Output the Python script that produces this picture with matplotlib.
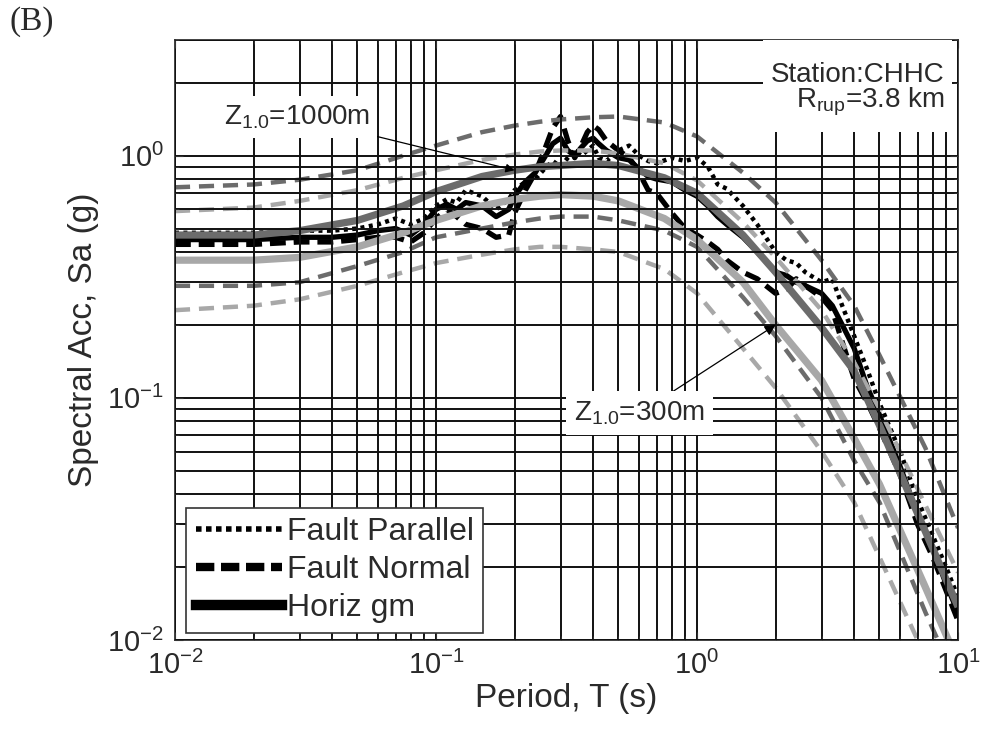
import matplotlib
matplotlib.use("Agg")
import matplotlib.pyplot as plt
from matplotlib.lines import Line2D
from matplotlib.patches import Rectangle
from matplotlib.ticker import LogLocator, LogFormatterMathtext, NullFormatter

plt.rcParams['font.family'] = ['Liberation Sans', 'DejaVu Sans']
plt.rcParams['mathtext.fontset'] = 'custom'
plt.rcParams['mathtext.rm'] = 'Liberation Sans'
plt.rcParams['mathtext.it'] = 'Liberation Sans:italic'
plt.rcParams['mathtext.bf'] = 'Liberation Sans:bold'

# --- model predictions (median and +/- one sigma), Sa in g ---
periods_model = [0.01, 0.02, 0.03, 0.05, 0.075, 0.1, 0.15, 0.2, 0.25, 0.3, 0.4,
                 0.5, 0.75, 1.0, 1.5, 2.0, 3.0, 4.0, 5.0, 7.5, 10.0]

z1000_median = [0.47, 0.47, 0.49, 0.54, 0.62, 0.71, 0.82, 0.87, 0.90, 0.91, 0.93,
                0.91, 0.81, 0.70, 0.47, 0.33, 0.195, 0.129, 0.077, 0.028, 0.0137]
z1000_plus = [0.74, 0.76, 0.795, 0.87, 1.0, 1.10, 1.25, 1.33, 1.38, 1.41, 1.44,
              1.45, 1.37, 1.20, 0.85, 0.64, 0.37, 0.24, 0.15, 0.062, 0.029]
z1000_minus = [0.29, 0.29, 0.30, 0.35, 0.40, 0.46, 0.50, 0.53, 0.55, 0.56, 0.56,
               0.54, 0.49, 0.42, 0.26, 0.18, 0.10, 0.055, 0.037, 0.013, 0.0065]

z300_median = [0.37, 0.37, 0.38, 0.42, 0.48, 0.54, 0.62, 0.66, 0.68, 0.69, 0.68,
               0.65, 0.55, 0.45, 0.30, 0.20, 0.118, 0.068, 0.044, 0.0165, 0.0081]
z300_plus = [0.59, 0.61, 0.65, 0.72, 0.81, 0.87, 0.96, 1.01, 1.04, 1.05, 1.05,
             1.02, 0.93, 0.79, 0.53, 0.38, 0.23, 0.14, 0.09, 0.036, 0.019]
z300_minus = [0.23, 0.24, 0.255, 0.29, 0.33, 0.36, 0.39, 0.41, 0.42, 0.42, 0.41,
              0.40, 0.34, 0.27, 0.16, 0.11, 0.06, 0.037, 0.022, 0.0085, 0.004]

# --- recorded spectra at station CHHC ---
periods_rec = [0.01, 0.015, 0.02, 0.03, 0.04, 0.05, 0.06, 0.07, 0.08, 0.09, 0.1,
               0.11, 0.12, 0.13, 0.15, 0.17, 0.19, 0.2, 0.22, 0.24, 0.26, 0.28,
               0.3, 0.32, 0.34, 0.36, 0.38, 0.4, 0.42, 0.45, 0.5, 0.55, 0.6, 0.65,
               0.7, 0.8, 0.9, 1.0, 1.1, 1.2, 1.3, 1.5, 1.7, 2.0, 2.2, 2.4, 2.6,
               3.0, 3.3, 3.6, 4.0, 4.5, 5.0, 6.0, 7.0, 8.0, 9.0, 10.0]

horiz_gm = [0.45, 0.45, 0.45, 0.46, 0.46, 0.47, 0.49, 0.50, 0.47, 0.52, 0.60,
            0.63, 0.60, 0.64, 0.62, 0.56, 0.60, 0.68, 0.78, 0.85, 0.98, 1.12,
            1.18, 1.05, 1.00, 1.08, 1.15, 1.18, 1.12, 1.05, 0.98, 0.96, 0.88, 0.82,
            0.80, 0.78, 0.72, 0.68, 0.62, 0.56, 0.52, 0.46, 0.40, 0.33, 0.32, 0.30,
            0.29, 0.27, 0.24, 0.20, 0.16, 0.11, 0.085, 0.052, 0.033, 0.024, 0.017, 0.013]

fault_normal = [0.43, 0.43, 0.43, 0.44, 0.44, 0.45, 0.46, 0.46, 0.44, 0.48, 0.55,
                0.60, 0.56, 0.52, 0.50, 0.46, 0.47, 0.58, 0.72, 0.85, 1.05, 1.30,
                1.45, 1.15, 0.98, 1.10, 1.25, 1.33, 1.28, 1.15, 1.05, 0.98, 0.85, 0.72,
                0.70, 0.58, 0.50, 0.47, 0.44, 0.41, 0.37, 0.33, 0.31, 0.27, 0.28, 0.31,
                0.29, 0.26, 0.23, 0.17, 0.12, 0.095, 0.075, 0.048, 0.030, 0.022, 0.016, 0.012]

fault_parallel = [0.48, 0.48, 0.48, 0.49, 0.49, 0.50, 0.52, 0.55, 0.52, 0.55, 0.62,
                  0.66, 0.64, 0.72, 0.68, 0.60, 0.66, 0.72, 0.78, 0.80, 0.88, 0.95,
                  0.90, 0.98, 1.05, 1.00, 1.05, 1.10, 0.98, 0.95, 1.05, 1.10, 1.00, 0.95,
                  0.93, 0.98, 0.95, 0.98, 0.90, 0.76, 0.73, 0.62, 0.52, 0.40, 0.37, 0.36,
                  0.33, 0.30, 0.31, 0.24, 0.18, 0.13, 0.095, 0.060, 0.038, 0.027, 0.020, 0.015]

dark_gray = '#6c6c6c'
light_gray = '#a8a8a8'
text_col = '#2a2a2a'

fig = plt.figure(figsize=(9.83, 7.42), dpi=100)
ax = fig.add_axes([0.178, 0.1375, 0.7966, 0.8085])

# recorded
ax.plot(periods_rec, fault_parallel, color='k', ls=(0, (0.9, 1.0)), lw=3.2)
ax.plot(periods_rec, fault_normal, color='k', ls=(0, (3.0, 1.5)), lw=3.8)
ax.plot(periods_rec, horiz_gm, color='k', ls='-', lw=3.8)

# model, Z1.0 = 1000 m (dark) and 300 m (light)
dash = (0, (3.4, 2.0))
ax.plot(periods_model, z1000_plus, color=dark_gray, ls=dash, lw=3.2, zorder=2.2)
ax.plot(periods_model, z1000_minus, color=dark_gray, ls=dash, lw=3.2, zorder=2.2)
ax.plot(periods_model, z300_plus, color=light_gray, ls=dash, lw=3.2, zorder=2.2)
ax.plot(periods_model, z300_minus, color=light_gray, ls=dash, lw=3.2, zorder=2.2)
ax.plot(periods_model, z1000_median, color=dark_gray, lw=5.2, zorder=2.3,
        solid_capstyle='butt')
ax.plot(periods_model, z300_median, color=light_gray, lw=5.2, zorder=2.3,
        solid_capstyle='butt')

ax.set_xscale('log')
ax.set_yscale('log')
ax.set_xlim(0.01, 10)
ax.set_ylim(0.01, 3)

ax.xaxis.set_major_locator(LogLocator(base=10))
ax.yaxis.set_major_locator(LogLocator(base=10))
ax.xaxis.set_minor_locator(LogLocator(base=10, subs=range(2, 10)))
ax.yaxis.set_minor_locator(LogLocator(base=10, subs=range(2, 10)))
ax.xaxis.set_major_formatter(LogFormatterMathtext())
ax.yaxis.set_major_formatter(LogFormatterMathtext())
ax.xaxis.set_minor_formatter(NullFormatter())
ax.yaxis.set_minor_formatter(NullFormatter())

ax.set_axisbelow(False)
ax.grid(True, which='both', color='#111111', lw=1.4, ls='-')
ax.tick_params(which='both', direction='in', top=True, right=True,
               colors='#333333', labelcolor=text_col, labelsize=21)
ax.tick_params(which='major', length=6, pad=8)
ax.tick_params(which='minor', length=3)
for sp in ax.spines.values():
    sp.set_color('#333333')
    sp.set_linewidth(1.3)

ax.set_xlabel('Period, T (s)', fontsize=24, color=text_col, labelpad=2)
ax.set_ylabel('Spectral Acc, Sa (g)', fontsize=24, color=text_col, labelpad=6)

# legend
handles = [Line2D([], [], color='k', ls=(0, (1, 0.8)), lw=4),
           Line2D([], [], color='k', ls=(0, (2.2, 0.8)), lw=6),
           Line2D([], [], color='k', lw=7.5)]
leg = ax.legend(handles, ['Fault Parallel', 'Fault Normal', 'Horiz gm'],
                loc='lower left', bbox_to_anchor=(0.014, 0.012),
                borderaxespad=0, fontsize=23, handlelength=2.7,
                handletextpad=0.15, labelspacing=0.25, borderpad=0.3,
                fancybox=False, framealpha=1, edgecolor='#333333',
                labelcolor=text_col)
leg.get_frame().set_linewidth(1.2)

# annotations
i2 = periods_model.index(0.2)
ax.annotate(r'Z$_{\mathregular{1.0}}$=1000m',
            xy=(periods_model[i2], z1000_median[i2]), xycoords='data',
            xytext=(0.156, 0.872), textcoords='axes fraction',
            ha='center', va='center', fontsize=20, color=text_col, zorder=5,
            bbox=dict(fc='white', ec='none', pad=5),
            arrowprops=dict(arrowstyle='-|>', color='k', lw=0.9,
                            mutation_scale=13, shrinkA=0, shrinkB=0))

j2 = periods_model.index(2.0)
ax.annotate(r'Z$_{\mathregular{1.0}}$=300m',
            xy=(periods_model[j2], z300_median[j2]), xycoords='data',
            xytext=(0.593, 0.378), textcoords='axes fraction',
            ha='center', va='center', fontsize=20, color=text_col, zorder=5,
            bbox=dict(fc='white', ec='none', pad=6),
            arrowprops=dict(arrowstyle='-|>', color='k', lw=0.9,
                            mutation_scale=16, shrinkA=0, shrinkB=0))

ax.add_patch(Rectangle((0.751, 0.847), 0.241, 0.153, transform=ax.transAxes,
                       facecolor='white', edgecolor='none', zorder=4))
ax.text(0.983, 0.93, 'Station:CHHC', transform=ax.transAxes, ha='right',
        va='baseline', fontsize=20, color=text_col, zorder=5)
ax.text(0.983, 0.888, r'R$_{\mathregular{rup}}$=3.8 km', transform=ax.transAxes,
        ha='right', va='baseline', fontsize=20, color=text_col, zorder=5)

fig.text(0.01, 0.992, '(B)', family=['Liberation Serif', 'DejaVu Serif'],
         fontsize=24, va='top', ha='left', color=text_col)

fig.savefig('out.png', dpi=100)
